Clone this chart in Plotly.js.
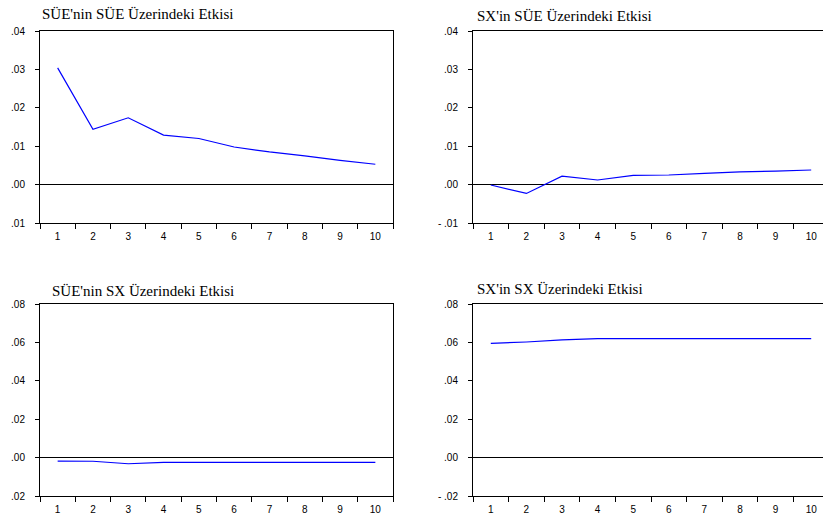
<!DOCTYPE html>
<html>
<head>
<meta charset="utf-8">
<script src="https://cdn.plot.ly/plotly-3.0.1.min.js"></script>
<style>
html, body { margin: 0; padding: 0; overflow: hidden; background: #fff; }
#chart { width: 830px; height: 515px; }
</style>
</head>
<body>
<div id="chart"></div>
<script>
// ---- data ----
const periods = [1, 2, 3, 4, 5, 6, 7, 8, 9, 10];
const titles = [
  "SÜE'nin SÜE Üzerindeki Etkisi",
  "SX'in SÜE Üzerindeki Etkisi",
  "SÜE'nin SX Üzerindeki Etkisi",
  "SX'in SX Üzerindeki Etkisi"
];
const sueOnSue = [0.0304, 0.0144, 0.0174, 0.0129, 0.0120, 0.0098, 0.0085, 0.0075, 0.0063, 0.0053];
const sxOnSue  = [-0.0001, -0.0023, 0.0022, 0.0012, 0.0024, 0.0025, 0.0029, 0.0033, 0.0035, 0.0038];
const sueOnSx  = [-0.0018, -0.0019, -0.0032, -0.0025, -0.0025, -0.0025, -0.0025, -0.0025, -0.0025, -0.0025];
const sxOnSx   = [0.0595, 0.0602, 0.0613, 0.0620, 0.0620, 0.0620, 0.0620, 0.0620, 0.0620, 0.0620];

const topTickVals = [-0.01, 0.00, 0.01, 0.02, 0.03, 0.04];
const topTickTextL = [".01", ".00", ".01", ".02", ".03", ".04"];
const topTickTextR = ["- .01", ".00", ".01", ".02", ".03", ".04"];
const botTickVals = [-0.02, 0.00, 0.02, 0.04, 0.06, 0.08];
const botTickTextL = [".02", ".00", ".02", ".04", ".06", ".08"];
const botTickTextR = ["- .02", ".00", ".02", ".04", ".06", ".08"];
const xTickText = ["1", "2", "3", "4", "5", "6", "7", "8", "9", "10"];
const xBoundaries = [0.5, 1.5, 2.5, 3.5, 4.5, 5.5, 6.5, 7.5, 8.5, 9.5, 10.5];

// ---- layout helpers ----
const W = 830, H = 515;
const px = v => v / W;
const py = v => 1 - v / H;

const series = [sueOnSue, sxOnSue, sueOnSx, sxOnSx];
const traces = series.map((s, i) => ({
  x: periods, y: s, type: 'scatter', mode: 'lines',
  line: { color: 'rgb(0,0,255)', width: 1.2 },
  xaxis: i === 0 ? 'x' : 'x' + (i + 1),
  yaxis: i === 0 ? 'y' : 'y' + (i + 1),
  hoverinfo: 'skip', showlegend: false
}));

const tickFont = { family: "'Liberation Sans', Arial, sans-serif", size: 10, color: '#000' };

function xAxis(d0, d1, anchor) {
  return {
    domain: [px(d0), px(d1)], anchor: anchor, range: [0.5, 10.5],
    tickmode: 'array', tickvals: periods, ticktext: xTickText, ticks: '',
    ticklabelstandoff: 4,
    minor: { tickmode: 'array', tickvals: xBoundaries, ticks: 'outside', ticklen: 5, tickcolor: '#000', tickwidth: 1, showgrid: false },
    showline: true, mirror: true, linecolor: '#000', linewidth: 1,
    showgrid: false, zeroline: false, tickfont: tickFont, fixedrange: true
  };
}
function yAxis(d0, d1, anchor, range, vals, text) {
  return {
    domain: [py(d1), py(d0)], anchor: anchor, range: range,
    tickmode: 'array', tickvals: vals, ticktext: text,
    ticks: 'outside', ticklen: 4, tickcolor: '#000', ticklabelstandoff: 8,
    showline: true, mirror: true, linecolor: '#000', linewidth: 1,
    showgrid: false, zeroline: true, zerolinecolor: '#000', zerolinewidth: 1,
    tickfont: tickFont, fixedrange: true
  };
}

const titleFont = { family: "'Liberation Serif', 'Times New Roman', serif", size: 15, color: '#000' };
function ann(text, x, yBase) {
  return { text: text, xref: 'paper', yref: 'paper', x: px(x), y: py(yBase + 4),
           xanchor: 'left', yanchor: 'bottom', showarrow: false, font: titleFont, borderpad: 0 };
}

const layout = {
  width: W, height: H,
  margin: { l: 0, r: 0, t: 0, b: 0 },
  paper_bgcolor: '#fff', plot_bgcolor: '#fff',
  showlegend: false,
  xaxis:  xAxis(40, 393, 'y'),
  xaxis2: xAxis(473, 829, 'y2'),
  xaxis3: xAxis(40, 393, 'y3'),
  xaxis4: xAxis(473, 829, 'y4'),
  yaxis:  yAxis(31, 223, 'x',  [-0.01, 0.04], topTickVals, topTickTextL),
  yaxis2: yAxis(31, 223, 'x2', [-0.01, 0.04], topTickVals, topTickTextR),
  yaxis3: yAxis(304, 496, 'x3', [-0.02, 0.08], botTickVals, botTickTextL),
  yaxis4: yAxis(304, 496, 'x4', [-0.02, 0.08], botTickVals, botTickTextR),
  annotations: [
    ann(titles[0], 41, 19),
    ann(titles[1], 476, 20.5),
    ann(titles[2], 51, 296),
    ann(titles[3], 476, 294)
  ]
};

Plotly.newPlot('chart', traces, layout, { displayModeBar: false, staticPlot: true });
</script>
</body>
</html>
